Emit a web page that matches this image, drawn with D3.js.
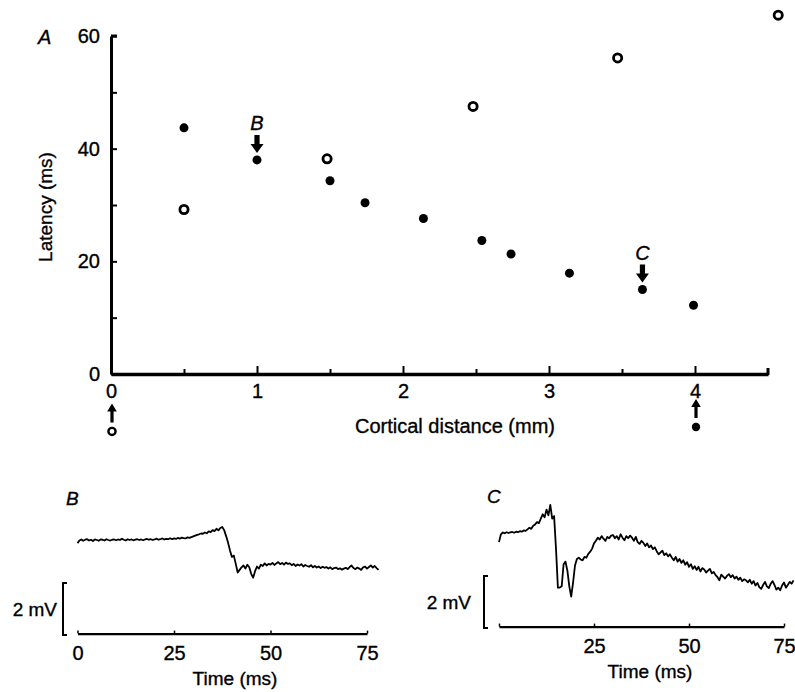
<!DOCTYPE html>
<html>
<head>
<meta charset="utf-8">
<script src="https://cdn.jsdelivr.net/npm/d3@7"></script>
<style>
  body { margin: 0; background: #fff; }
  text { font-family: "Liberation Sans", Arial, sans-serif; fill: #000; stroke: #000; stroke-width: 0.35px; }
</style>
</head>
<body>
<div id="chart"></div>
<script>
// define constants
const w = 795;
const h = 692;

// panel A data: latency vs cortical distance
const filledDist = [0.5, 1.0, 1.5, 1.74, 2.14, 2.54, 2.74, 3.14, 3.64, 3.99];
const filledLat = [43.7, 38.0, 34.3, 30.4, 27.6, 23.7, 21.3, 17.9, 15.0, 12.2];
const openDist = [0.5, 1.48, 2.48, 3.47, 4.57];
const openLat = [29.2, 38.2, 47.5, 56.1, 63.7];
const yTickVals = [0, 10, 20, 30, 40, 50, 60];
const yTickLabels = [0, 20, 40, 60];
const xTickLabels = [0, 1, 2, 3, 4];
const xMinorTicks = [0.5, 1.5, 2.5, 3.5];
// arrows pointing at the traces shown in B and C
const arrowLabels = ["B", "C"];
const arrowDist = [1.0, 3.64];
const arrowLat = [38.0, 15.0];
// stimulation sites below the axis
const siteDist = [0, 4];
const siteFilled = [false, true];

// traces B and C (mV, sampled every 0.5 ms)
const dt = 0.5;
const traceB = [
  -0.12,-0.02,0.02,-0.03,0.01,0.03,-0.02,0.01,-0.04,0.02,
  0.0,-0.03,0.02,0.01,-0.02,0.03,0.0,-0.02,0.01,0.02,
  -0.01,0.02,0.0,0.05,0.01,-0.02,0.03,0.0,0.02,-0.01,
  0.01,0.03,0.0,0.02,-0.01,0.02,0.04,0.01,0.03,0.0,
  0.02,0.05,0.01,0.03,0.06,0.02,0.04,0.03,0.07,0.03,
  0.06,0.04,0.08,0.05,0.09,0.07,0.06,0.1,0.08,0.11,
  0.14,0.17,0.2,0.22,0.25,0.24,0.29,0.26,0.33,0.3,
  0.38,0.34,0.43,0.37,0.46,0.5,0.38,0.15,-0.1,-0.4,
  -0.65,-0.6,-0.92,-1.25,-1.15,-1.05,-0.98,-1.1,-0.95,-1.05,
  -1.3,-1.45,-1.2,-1.02,-1.1,-0.95,-1.0,-0.9,-0.98,-0.92,
  -0.95,-0.88,-0.96,-0.9,-0.85,-0.93,-0.88,-0.95,-0.87,-0.92,
  -0.9,-0.97,-0.92,-1.0,-0.94,-0.98,-0.93,-1.02,-0.96,-1.0,
  -1.03,-0.97,-1.05,-1.0,-1.06,-1.02,-1.08,-1.03,-1.07,-1.04,
  -1.1,-1.05,-1.12,-1.08,-1.06,-1.12,-1.09,-1.14,-1.1,-1.07,
  -1.12,-1.04,-0.98,-1.08,-1.12,-1.06,-1.1,-1.15,-1.05,-1.02,
  -1.1,-1.04,-0.98,-1.06,-1.0,-1.08,-1.15
];
const traceC = [
  -0.35,-0.05,0.02,-0.01,0.03,0.0,0.02,0.04,0.01,0.05,
  0.03,0.07,0.05,0.1,0.08,0.14,0.2,0.16,0.28,0.33,
  0.42,0.38,0.55,0.72,0.6,0.9,0.68,1.08,0.55,0.65,
  -0.6,-2.1,-2.1,-2.05,-1.2,-1.1,-1.45,-2.05,-2.45,-1.9,
  -1.25,-1.0,-0.95,-1.02,-1.05,-0.92,-0.95,-0.8,-0.72,-0.6,
  -0.4,-0.3,-0.18,-0.25,-0.12,-0.22,-0.3,-0.15,-0.2,-0.1,
  -0.08,-0.2,-0.12,-0.25,-0.05,-0.18,-0.28,-0.12,-0.2,-0.1,
  -0.18,-0.3,-0.15,-0.35,-0.42,-0.3,-0.38,-0.5,-0.4,-0.55,
  -0.48,-0.62,-0.55,-0.7,-0.82,-0.75,-0.68,-0.85,-0.78,-0.9,
  -0.82,-0.95,-1.05,-0.92,-1.1,-1.0,-1.15,-1.05,-1.22,-1.12,
  -1.3,-1.2,-1.38,-1.28,-1.42,-1.3,-1.48,-1.35,-1.4,-1.52,
  -1.45,-1.38,-1.55,-1.5,-1.62,-1.7,-1.82,-1.6,-1.68,-1.75,
  -1.65,-1.58,-1.7,-1.62,-1.75,-1.68,-1.8,-1.72,-1.85,-1.78,
  -1.82,-1.9,-1.8,-1.95,-1.85,-2.02,-1.92,-2.08,-2.15,-2.0,
  -1.88,-2.05,-2.12,-1.95,-1.85,-2.0,-2.18,-2.1,-2.2,-2.02,
  -1.9,-2.1,-2.0,-1.88,-1.95,-1.82
];
const timeTicks = [0, 25, 50, 75];
const timeLabelsB = [0, 25, 50, 75];
const timeLabelsC = [25, 50, 75];

const svg = d3.select("#chart").append("svg").attr("width", w).attr("height", h);

// ---------- panel A ----------
const xScale = d3.scaleLinear().domain([0, 4.5]).range([111, 768]);
const yScale = d3.scaleLinear().domain([0, 60]).range([374, 36]);

const gA = svg.append("g");

// y axis, ticks point inwards
const yAxis = d3.axisLeft(yScale).tickValues(yTickVals).tickSizeInner(-6).tickSizeOuter(0).tickPadding(11)
    .tickFormat(d => yTickLabels.includes(d) ? d : "");
const gy = gA.append("g").attr("transform", "translate(" + xScale(0) + ",0)").call(yAxis);
gy.select(".domain").attr("stroke-width", 3);
gy.selectAll(".tick line").attr("stroke-width", 2);
gy.selectAll("text").style("font-size", "20px");
// cap at the top of the y axis
gA.append("line").attr("x1", xScale(0)).attr("x2", xScale(0) + 6)
    .attr("y1", yScale(60)).attr("y2", yScale(60)).attr("stroke", "#000").attr("stroke-width", 3);

// x axis, ticks point upwards
const xAxis = d3.axisBottom(xScale).tickValues(xTickLabels).tickSizeInner(-8).tickSizeOuter(0).tickPadding(10)
    .tickFormat(d3.format("d"));
const gx = gA.append("g").attr("transform", "translate(0," + yScale(0) + ")").call(xAxis);
gx.select(".domain").attr("stroke-width", 3.5);
gx.selectAll(".tick line").attr("stroke-width", 2);
gx.selectAll("text").style("font-size", "20px");
const gxm = gA.append("g").attr("transform", "translate(0," + yScale(0) + ")")
    .call(d3.axisBottom(xScale).tickValues(xMinorTicks).tickSizeInner(-5).tickSizeOuter(0).tickFormat(""));
gxm.select(".domain").remove();
gxm.selectAll(".tick line").attr("stroke-width", 2);
// end cap of the x axis
gA.append("line").attr("x1", xScale(4.5)).attr("x2", xScale(4.5))
    .attr("y1", yScale(0) + 1).attr("y2", yScale(0) - 6).attr("stroke", "#000").attr("stroke-width", 3);

// axis titles
gA.append("text").attr("x", 455).attr("y", 433).attr("text-anchor", "middle")
    .style("font-size", "20px").text("Cortical distance (mm)");
gA.append("text").attr("transform", "translate(52," + (yScale(30) + 2) + ") rotate(-90)")
    .attr("text-anchor", "middle").style("font-size", "19px").text("Latency (ms)");
gA.append("text").attr("x", 38).attr("y", 44).style("font-size", "20px").style("font-style", "italic").text("A");

// points
gA.selectAll(".filled").data(filledDist).join("circle").attr("class", "filled")
    .attr("cx", d => xScale(d)).attr("cy", (d, i) => yScale(filledLat[i])).attr("r", 4.5).attr("fill", "#000");
gA.selectAll(".open").data(openDist).join("circle").attr("class", "open")
    .attr("cx", d => xScale(d)).attr("cy", (d, i) => yScale(openLat[i])).attr("r", 4.1)
    .attr("fill", "#fff").attr("stroke", "#000").attr("stroke-width", 2.8);

// down arrows with labels B and C
const arrowPath = "M-2.6,0 L2.6,0 L2.6,9 L6.5,9 L0,18 L-6.5,9 L-2.6,9 Z";
arrowLabels.forEach((lab, i) => {
    const ax = xScale(arrowDist[i]);
    const ay = yScale(arrowLat[i]) - 25;
    gA.append("path").attr("d", arrowPath).attr("transform", "translate(" + ax + "," + ay + ")").attr("fill", "#000");
    gA.append("text").attr("x", ax).attr("y", ay - 5).attr("text-anchor", "middle")
        .style("font-size", "20px").style("font-style", "italic").text(lab);
});

// stimulation sites below the axis with up arrows
const upArrow = "M-1.6,0 L1.6,0 L1.6,-11 L4.8,-11 L0,-19 L-4.8,-11 L-1.6,-11 Z";
siteDist.forEach((d, i) => {
    const sx = xScale(d) + 1;
    const sy = siteFilled[i] ? yScale(-9.4) : yScale(-10.2);
    gA.append("path").attr("d", upArrow).attr("transform", "translate(" + sx + "," + (sy - 9) + ")").attr("fill", "#000");
    if (siteFilled[i]) {
        gA.append("circle").attr("cx", sx).attr("cy", sy).attr("r", 4.2).attr("fill", "#000");
    } else {
        gA.append("circle").attr("cx", sx).attr("cy", sy).attr("r", 3.6)
            .attr("fill", "#fff").attr("stroke", "#000").attr("stroke-width", 2.4);
    }
});

// ---------- traces ----------
function drawTrace(values, xr, base, tickLabels, label, titleX, barX, barLabelX) {
    const tx = d3.scaleLinear().domain([0, 75]).range(xr);
    const ty = d3.scaleLinear().domain([-2, 2]).range([base + 52, base - 52]);
    const g = svg.append("g");

    const line = d3.line()
        .x((d, i) => tx(i * dt))
        .y(d => ty(d));
    g.append("path").datum(values)
        .attr("fill", "none").attr("stroke", "#000")
        .attr("stroke-width", 1.8).attr("stroke-linejoin", "round")
        .attr("d", line);

    // time axis
    const axisY = ty(-3.6);
    const ax = d3.axisBottom(tx).tickValues(timeTicks).tickSizeInner(-3).tickSizeOuter(0).tickPadding(12)
        .tickFormat(d => tickLabels.includes(d) ? d : "");
    const ga = g.append("g").attr("transform", "translate(0," + axisY + ")").call(ax);
    ga.select(".domain").attr("stroke-width", 2.4);
    ga.selectAll(".tick line").attr("stroke-width", 1.5);
    ga.selectAll("text").style("font-size", "20px");
    g.append("text").attr("x", titleX).attr("y", axisY + 51).attr("text-anchor", "middle")
        .style("font-size", "19px").text("Time (ms)");

    // 2 mV scale bar
    const y1 = ty(-1.65), y2 = ty(-3.65);
    g.append("path").attr("d", "M" + (barX + 4) + "," + y1 + " H" + barX + " V" + y2 + " H" + (barX + 4))
        .attr("fill", "none").attr("stroke", "#000").attr("stroke-width", 2);
    g.append("text").attr("x", barLabelX).attr("y", (y1 + y2) / 2 + 7).attr("text-anchor", "end")
        .style("font-size", "19px").text("2 mV");

    g.append("text").attr("x", label.x).attr("y", label.y).style("font-size", "19px")
        .style("font-style", "italic").text(label.text);
}

drawTrace(traceB, [77.5, 367], 540, timeLabelsB, { text: "B", x: 66, y: 505 }, 235, 63, 57);
drawTrace(traceC, [499, 784], 533, timeLabelsC, { text: "C", x: 487, y: 503 }, 650, 484, 471);
</script>
</body>
</html>
